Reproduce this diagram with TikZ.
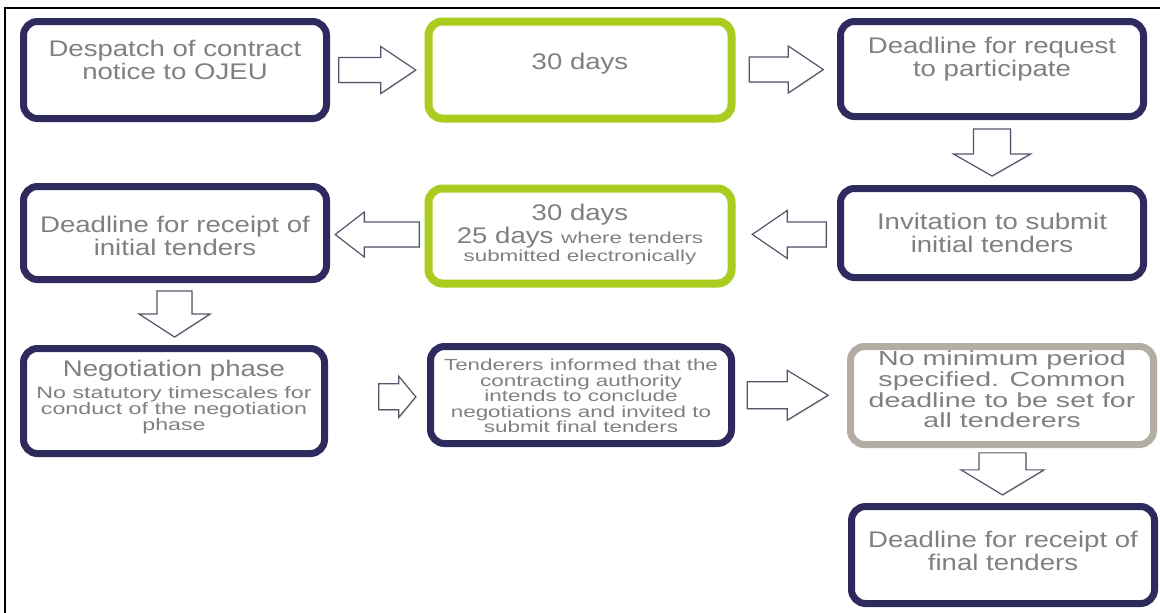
\documentclass[tikz,border=0pt]{standalone}
\usepackage{fontspec}
\setmainfont{Liberation Sans}[FakeStretch=1.22]
\newfontfamily\widefont{Liberation Sans}[FakeStretch=1.4]
\usetikzlibrary{shadows,calc}

\definecolor{navy}{HTML}{2E2A5E}
\definecolor{lime}{HTML}{AACC1E}
\definecolor{taupe}{HTML}{B4ADA3}
\definecolor{txtgray}{HTML}{808080}
\definecolor{arrowline}{HTML}{55556A}

% text sizes; the negative \lineskiplimit keeps the tight leading exact
\newcommand{\bigtxt}{\normalfont\fontsize{11.3}{11.5}\selectfont\lineskiplimit=-20pt}
\newcommand{\smalltxt}{\widefont\fontsize{8.3}{8}\selectfont\lineskiplimit=-20pt}
\newcommand{\notetxt}{\widefont\fontsize{8}{8}\selectfont\lineskiplimit=-20pt}
\newcommand{\tinytxt}{\widefont\fontsize{8}{7.7}\selectfont\lineskiplimit=-20pt}
\newcommand{\midtxt}{\widefont\fontsize{10.2}{10.3}\selectfont\lineskiplimit=-20pt}

\tikzset{
  stepbox/.style={draw=#1, rounded corners=7pt, line width=3.5pt, fill=white,
    minimum width=151.5pt, minimum height=48.5pt, inner sep=0pt,
    drop shadow={shadow xshift=0.8pt, shadow yshift=-1.2pt, opacity=0.15, fill=black}},
  boxtext/.style={align=center, text=txtgray, inner sep=0pt, font=\bigtxt},
  blockarrow/.style={draw=arrowline, fill=white, line width=0.6pt, line join=miter,
    drop shadow={shadow xshift=0.5pt, shadow yshift=-0.5pt, opacity=0.12, fill=black}},
}

% hollow block arrow centred on a named coordinate:
% #1 coordinate, #2 rotation, #3 length, #4 head width, #5 shaft width, #6 head length
\newcommand{\flowarrow}[6]{%
  \draw[blockarrow, shift={(#1)}, rotate=#2]
    ({-#3/2},{-#5/2}) -- ({#3/2-#6},{-#5/2}) -- ({#3/2-#6},{-#4/2}) -- ({#3/2},0)
    -- ({#3/2-#6},{#4/2}) -- ({#3/2-#6},{#5/2}) -- ({-#3/2},{#5/2}) -- cycle;}

\begin{document}
\begin{tikzpicture}[x=0.5pt, y=-0.5pt]
  \useasboundingbox (0,0) rectangle (1160,612);
  \fill[white] (0,0) rectangle (1160,612);
  % frame (open to the right and bottom)
  \draw[line width=1.1pt] (5,640) -- (5,8) -- (1190,8);

  % row 1
  \node[stepbox=navy] (b1) at (175,70) {};
  \node[boxtext] (t1) at ([yshift=5pt]b1.center) {Despatch of contract\\notice to OJEU};
  \node[stepbox=lime, line width=4pt] (b2) at (580,70) {};
  \node[boxtext] (t2) at ([yshift=3pt]b2.center) {30 days};
  \node[stepbox=navy, minimum height=47.5pt] (b3) at (992,69) {};
  \node[boxtext] (t3) at ([yshift=5pt]b3.center) {Deadline for request\\to participate};

  % row 2
  \node[stepbox=navy, minimum height=44.5pt] (b4) at (992,233) {};
  \node[boxtext] (t4) at (b4.center) {Invitation to submit\\initial tenders};
  \node[stepbox=lime, line width=4pt, minimum height=47.5pt] (b6) at (580,236) {};
  \node[boxtext] (t6) at ([yshift=1pt]b6.center)
    {30 days\\25 days {\notetxt where tenders}\\[-2.5pt] {\notetxt submitted electronically}};
  \node[stepbox=navy, minimum height=46.5pt] (b5) at (175,233) {};
  \node[boxtext] (t5) at ([yshift=-1.5pt]b5.center) {Deadline for receipt of\\initial tenders};

  % row 3
  \node[stepbox=navy, minimum width=150.5pt, minimum height=52.5pt] (b7) at (174,401) {};
  \node[boxtext, font=\smalltxt] (t7) at ([yshift=2pt]b7.center)
    {{\bigtxt Negotiation phase}\\[3pt] No statutory timescales for\\conduct of the negotiation\\phase};
  \node[stepbox=navy, minimum width=150.5pt] (b8) at (581,395) {};
  \node[boxtext, font=\tinytxt] (t8) at ([yshift=-0.5pt]b8.center)
    {Tenderers informed that the\\contracting authority\\intends to conclude\\negotiations and invited to\\submit final tenders};
  \node[stepbox=taupe, minimum height=49pt] (b9) at (1002,395.5) {};
  \node[boxtext, font=\midtxt] (t9) at ([yshift=3pt]b9.center)
    {No minimum period\\specified. Common\\deadline to be set for\\all tenderers};
  \node[stepbox=navy] (b10) at (1003,555) {};
  \node[boxtext] (t10) at ([yshift=2pt]b10.center) {Deadline for receipt of\\final tenders};

  % flow arrows between the boxes
  \coordinate (a12) at ($(b1.east)!0.5!(b2.west)$);
  \coordinate (a23) at ($(b2.east)!0.5!(b3.west)$);
  \coordinate (a34) at ($(b3.south)!0.5!(b4.north)$);
  \coordinate (a46) at ($(b4.west)!0.47!(b6.east)$);
  \coordinate (a65) at ($(b6.west)!0.5!(b5.east)$);
  \coordinate (a57) at ($(b5.south)!0.5!(b7.north)$);
  \coordinate (a78) at ($(b7.east)!0.70!(b8.west)$);
  \coordinate (a89) at ($(b8.east)!0.47!(b9.west)$);
  \coordinate (a910) at ($(b9.south)!0.47!(b10.north)$);

  \flowarrow{a12}{0}{77}{47}{25}{35}
  \flowarrow{a23}{0}{74}{47}{25}{35}
  \flowarrow{a34}{-90}{47}{77}{37}{22}
  \flowarrow{a46}{180}{74}{48}{25}{35}
  \flowarrow{a65}{180}{84}{45}{25}{29}
  \flowarrow{a57}{-90}{46}{71}{35}{23}
  \flowarrow{a78}{0}{37}{41}{26}{17}
  \flowarrow{a89}{0}{81}{50}{27}{41}
  \flowarrow{a910}{-90}{42}{83}{47}{25}
\end{tikzpicture}
\end{document}
